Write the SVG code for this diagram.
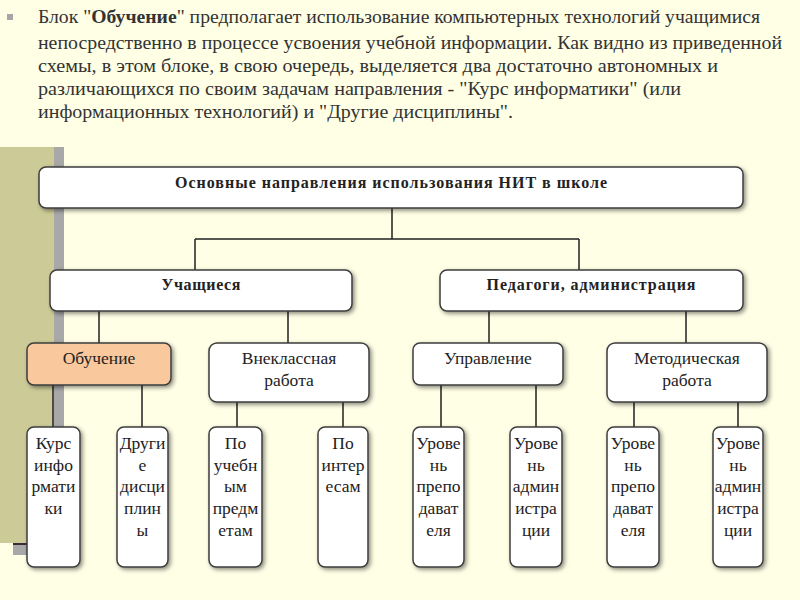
<svg xmlns="http://www.w3.org/2000/svg" width="800" height="600" viewBox="0 0 800 600">
<defs>
<filter id="sh" x="-20%" y="-20%" width="140%" height="140%">
<feDropShadow dx="2" dy="2" stdDeviation="2" flood-color="#000" flood-opacity="0.45"/>
</filter>
<style>
.box{fill:#fff;stroke:#3c3c3c;stroke-width:1.5;filter:url(#sh)}
.hl{fill:#F9C89C}
.t{font-family:"Liberation Serif","Times New Roman",serif;fill:#222;text-anchor:middle}
.b{font-weight:bold;font-size:16px}
.m{font-size:17.5px}
.s{font-size:17.5px}
.p{font-family:"Liberation Serif","Times New Roman",serif;font-size:19px;fill:#333}
.c{fill:none;stroke:#222;stroke-width:1.5}
</style>
</defs>
<rect width="800" height="600" fill="#FFFFE6"/>
<rect x="0" y="147" width="54" height="396" fill="#CCCB98"/>
<rect x="54" y="147" width="10" height="410" fill="#A8A8A8"/>
<rect x="13" y="543" width="14" height="12" fill="#A8A8A8"/>
<rect x="13" y="543" width="14" height="2" fill="#3a2a3a"/>
<rect x="7" y="14" width="6" height="6" fill="#A6A6A6"/>
<g id="intro">
<text class="p" x="38" y="23" textLength="722" lengthAdjust="spacingAndGlyphs">Блок "<tspan font-weight="bold">Обучение</tspan>" предполагает использование компьютерных технологий учащимися</text>
<text class="p" x="38" y="49" textLength="744" lengthAdjust="spacingAndGlyphs">непосредственно в процессе усвоения учебной информации. Как видно из приведенной</text>
<text class="p" x="38" y="72" textLength="680" lengthAdjust="spacingAndGlyphs">схемы, в этом блоке, в свою очередь, выделяется два достаточно автономных и</text>
<text class="p" x="38" y="95" textLength="643" lengthAdjust="spacingAndGlyphs">различающихся по своим задачам направления - "Курс информатики" (или</text>
<text class="p" x="38" y="118" textLength="475" lengthAdjust="spacingAndGlyphs">информационных технологий) и "Другие дисциплины".</text>
</g>
<g id="connectors">
<path class="c" d="M392 208V239M195 239H579M195 239V270M579 239V270"/>
<path class="c" d="M99 311V343M288 311V343M489 311V343M686 311V343"/>
<path class="c" d="M53 385V427M142 385V427M237 402V427M343 402V427M441 385V427M536 385V427M634 402V427M738 402V427"/>
</g>
<g id="root">
<rect class="box" x="39" y="167" width="704" height="41" rx="7"/>
<text class="t b" x="391" y="188" textLength="432" lengthAdjust="spacing">Основные направления использования НИТ в школе</text>
</g>
<g id="students">
<rect class="box" x="50" y="270" width="302" height="41" rx="7"/>
<text class="t b" x="201" y="290" textLength="79" lengthAdjust="spacing">Учащиеся</text>
</g>
<g id="teachers">
<rect class="box" x="440" y="270" width="303" height="41" rx="7"/>
<text class="t b" x="591" y="290" textLength="209" lengthAdjust="spacing">Педагоги, администрация</text>
</g>
<g id="learning">
<rect class="box hl" x="27" y="343" width="144" height="42" rx="7"/>
<text class="t m" x="99" y="364">Обучение</text>
</g>
<g id="extracurricular">
<rect class="box" x="209" y="343" width="160" height="59" rx="8"/>
<text class="t m" x="289" y="364">Внеклассная</text>
<text class="t m" x="289" y="386">работа</text>
</g>
<g id="management">
<rect class="box" x="413" y="343" width="150" height="42" rx="7"/>
<text class="t m" x="488" y="364">Управление</text>
</g>
<g id="methodical">
<rect class="box" x="607" y="343" width="160" height="59" rx="8"/>
<text class="t m" x="687" y="364">Методическая</text>
<text class="t m" x="687" y="386">работа</text>
</g>
<g id="course">
<rect class="box" x="27" y="427" width="53" height="140" rx="7"/>
<text class="t s"><tspan x="53.5" y="449">Курс</tspan><tspan x="53.5" y="471">инфо</tspan><tspan x="53.5" y="492">рмати</tspan><tspan x="53.5" y="514">ки</tspan></text>
</g>
<g id="other">
<rect class="box" x="117" y="427" width="51" height="140" rx="7"/>
<text class="t s"><tspan x="142.5" y="449">Други</tspan><tspan x="142.5" y="471">е</tspan><tspan x="142.5" y="492">дисци</tspan><tspan x="142.5" y="514">плин</tspan><tspan x="142.5" y="536">ы</tspan></text>
</g>
<g id="subjects">
<rect class="box" x="209" y="427" width="53" height="140" rx="7"/>
<text class="t s"><tspan x="235.5" y="449">По</tspan><tspan x="235.5" y="471">учебн</tspan><tspan x="235.5" y="492">ым</tspan><tspan x="235.5" y="514">предм</tspan><tspan x="235.5" y="536">етам</tspan></text>
</g>
<g id="interests">
<rect class="box" x="318" y="427" width="50" height="140" rx="7"/>
<text class="t s"><tspan x="343" y="449">По</tspan><tspan x="343" y="471">интер</tspan><tspan x="343" y="492">есам</tspan></text>
</g>
<g id="teacher-level-1">
<rect class="box" x="413" y="427" width="51" height="140" rx="7"/>
<text class="t s"><tspan x="438.5" y="449">Урове</tspan><tspan x="438.5" y="471">нь</tspan><tspan x="438.5" y="492">препо</tspan><tspan x="438.5" y="514">дават</tspan><tspan x="438.5" y="536">еля</tspan></text>
</g>
<g id="admin-level-1">
<rect class="box" x="510" y="427" width="52" height="140" rx="7"/>
<text class="t s"><tspan x="536" y="449">Урове</tspan><tspan x="536" y="471">нь</tspan><tspan x="536" y="492">админ</tspan><tspan x="536" y="514">истра</tspan><tspan x="536" y="536">ции</tspan></text>
</g>
<g id="teacher-level-2">
<rect class="box" x="607" y="427" width="52" height="140" rx="7"/>
<text class="t s"><tspan x="633" y="449">Урове</tspan><tspan x="633" y="471">нь</tspan><tspan x="633" y="492">препо</tspan><tspan x="633" y="514">дават</tspan><tspan x="633" y="536">еля</tspan></text>
</g>
<g id="admin-level-2">
<rect class="box" x="713" y="427" width="50" height="140" rx="7"/>
<text class="t s"><tspan x="738" y="449">Урове</tspan><tspan x="738" y="471">нь</tspan><tspan x="738" y="492">админ</tspan><tspan x="738" y="514">истра</tspan><tspan x="738" y="536">ции</tspan></text>
</g>
</svg>
